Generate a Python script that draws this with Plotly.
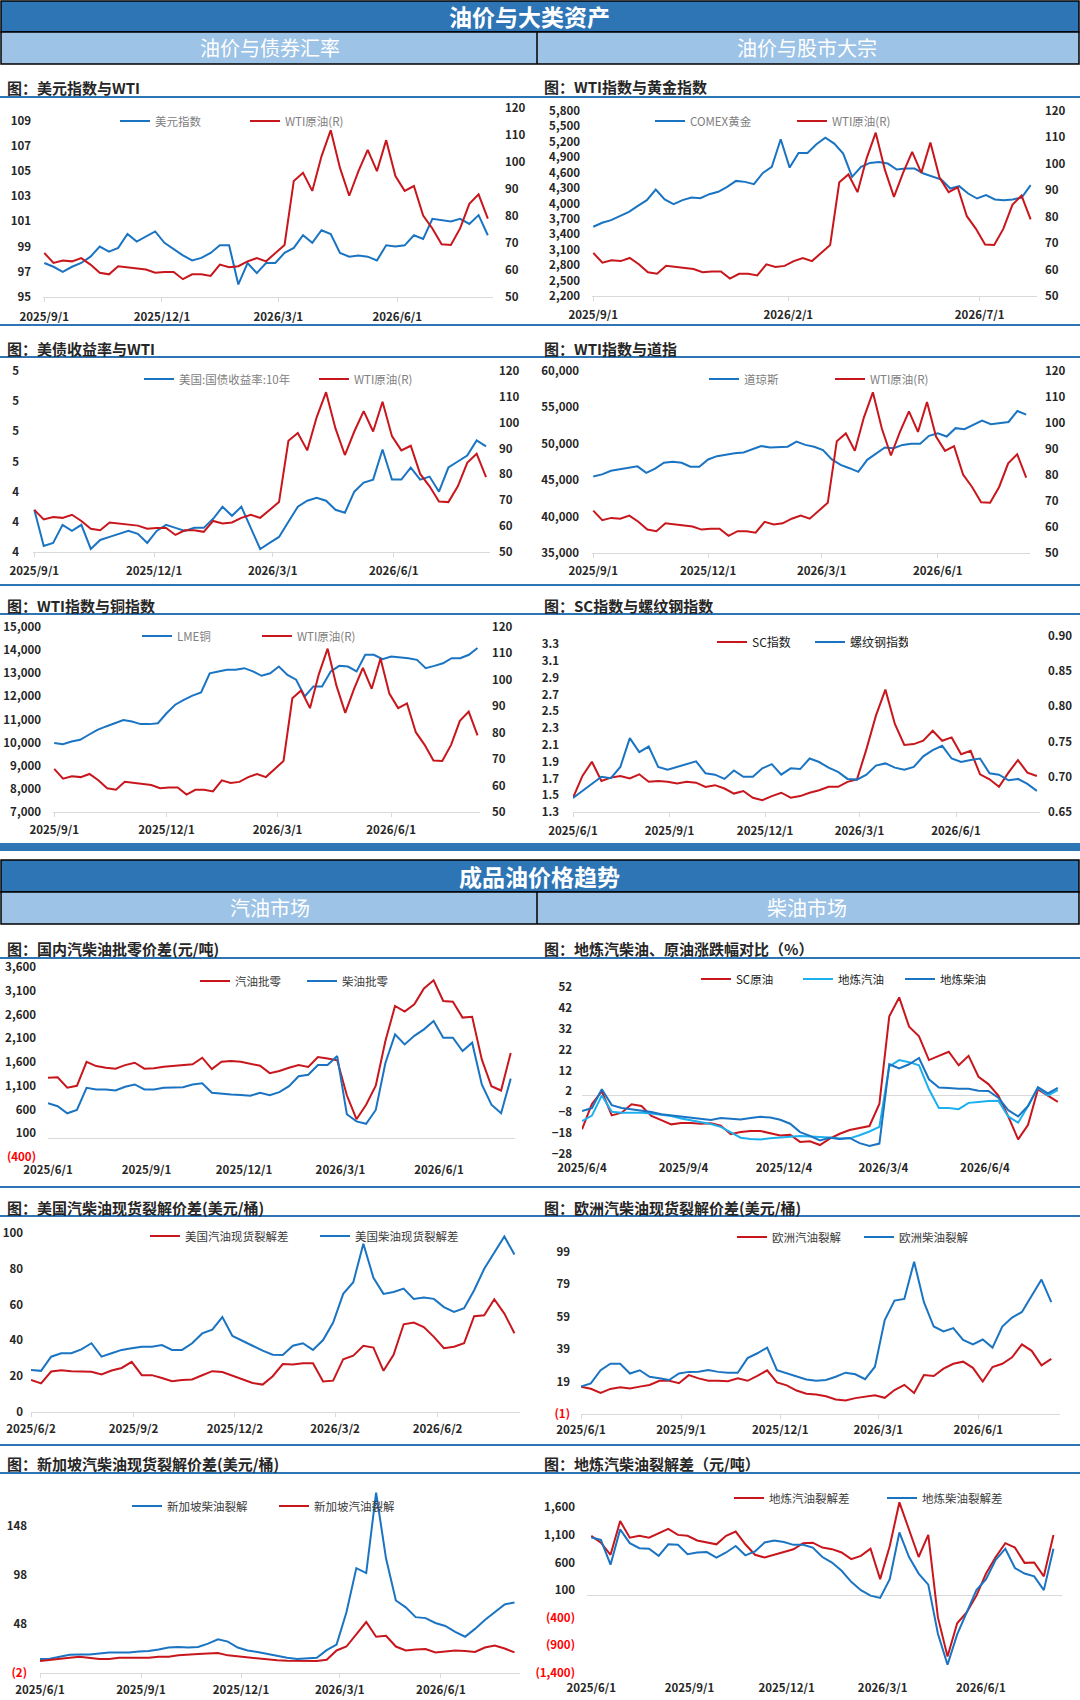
import plotly.graph_objects as go
import pandas as pd

W, H = 1080, 1700
FONT = "Noto Sans CJK SC, Noto Sans, sans-serif"
RED = "#C8161D"
BLUE = "#1A74C2"
SKY = "#1CB0EE"
BAR_DARK = "#2E75B6"
BAR_LIGHT = "#9DC3E6"
AXIS_GRAY = "#D9D9D9"
NEG = "#FF0000"

# ---------------- data ----------------
wti_dates = pd.date_range("2025-09-01", "2026-08-10", periods=49)
wti = [66.3, 62.6, 63.5, 63.2, 64.4, 62.0, 59.0, 58.4, 61.4, 61.0,
       60.6, 60.2, 59.0, 59.3, 59.3, 56.6, 58.4, 58.4, 57.8, 62.0,
       61.0, 61.4, 63.2, 64.4, 63.2, 66.3, 69.3, 93.0, 96.0, 89.3,
       102.1, 111.8, 97.8, 87.5, 96.6, 104.5, 96.6, 108.1, 94.8, 89.3,
       91.1, 80.2, 75.4, 69.5, 69.3, 75.4, 84.5, 88.0, 79.0]
dxy = [97.7, 97.4, 97.0, 97.4, 97.7, 98.2, 99.0, 98.6, 98.9, 100.0,
       99.4, 99.8, 100.2, 99.3, 98.8, 98.3, 97.9, 98.1, 98.5, 99.1,
       99.1, 96.0, 97.7, 96.9, 97.7, 97.7, 98.5, 98.9, 99.9, 99.3,
       100.3, 100.0, 98.5, 98.2, 98.3, 98.2, 97.9, 99.1, 99.0, 99.1,
       99.9, 99.6, 101.2, 101.1, 101.0, 101.2, 100.8, 101.5, 99.9]
ust10 = [4.34, 4.22, 4.23, 4.29, 4.27, 4.29, 4.21, 4.24, 4.25, 4.26,
         4.27, 4.26, 4.23, 4.27, 4.29, 4.28, 4.27, 4.28, 4.28, 4.31,
         4.35, 4.32, 4.35, 4.28, 4.21, 4.23, 4.25, 4.30, 4.35, 4.37,
         4.38, 4.37, 4.34, 4.33, 4.40, 4.43, 4.44, 4.54, 4.44, 4.44,
         4.48, 4.44, 4.45, 4.40, 4.48, 4.50, 4.52, 4.57, 4.55]

asset_dates = pd.date_range("2025-09-01", "2026-08-10", periods=50)
gold = [3547, 3625, 3676, 3754, 3838, 3955, 4065, 4272, 4078, 3987,
        4065, 4117, 4104, 4181, 4227, 4324, 4440, 4421, 4376, 4596,
        4712, 5250, 4699, 4984, 4984, 5153, 5282, 5166, 4971, 4518,
        4712, 4790, 4809, 4777, 4661, 4680, 4680, 4583, 4518, 4466,
        4291, 4337, 4194, 4097, 4162, 4078, 4065, 4078, 4117, 4356]
dow = [45500, 45800, 46300, 46500, 46600, 46900, 46000, 46600, 47400, 47550,
       47400, 46850, 46850, 47850, 48300, 48550, 48700, 48800, 49250, 49700,
       49500, 49500, 49600, 50300, 49850, 49600, 49150, 47850, 47100, 46650,
       46150, 47800, 48700, 49500, 49400, 49850, 50000, 50000, 51100, 51450,
       51000, 52150, 52000, 52600, 53200, 52700, 52800, 53000, 54500, 54000]
lme_cu = [9980, 9930, 10050, 10120, 10340, 10550, 10700, 10840, 10980, 10910,
          10800, 10800, 10840, 11270, 11640, 11850, 12030, 12170, 13000, 13080,
          13150, 13150, 13220, 13080, 12890, 13000, 13290, 12930, 12720, 12000,
          12430, 12430, 13080, 13320, 13290, 13080, 13800, 13800, 13610, 13720,
          13700, 13650, 13580, 13220, 13320, 13430, 13650, 13650, 13800, 14090]

sc_dates = pd.date_range("2025-06-01", "2026-08-17", periods=50)
sc_index = [1.47, 1.73, 1.90, 1.67, 1.71, 1.73, 1.70, 1.75, 1.66, 1.67,
            1.66, 1.64, 1.66, 1.65, 1.60, 1.62, 1.58, 1.52, 1.55, 1.47,
            1.44, 1.49, 1.53, 1.47, 1.49, 1.53, 1.56, 1.60, 1.60, 1.66,
            1.69, 2.05, 2.45, 2.76, 2.35, 2.10, 2.11, 2.15, 2.27, 2.15,
            2.19, 1.99, 2.03, 1.75, 1.69, 1.60, 1.77, 1.92, 1.77, 1.73]
rebar_index = [0.670, 0.680, 0.690, 0.700, 0.698, 0.714, 0.755, 0.735, 0.743, 0.714,
               0.710, 0.714, 0.719, 0.722, 0.705, 0.703, 0.697, 0.709, 0.700, 0.700,
               0.712, 0.718, 0.703, 0.712, 0.711, 0.726, 0.721, 0.713, 0.707, 0.697,
               0.696, 0.703, 0.716, 0.719, 0.713, 0.710, 0.714, 0.729, 0.738, 0.744,
               0.726, 0.721, 0.724, 0.726, 0.705, 0.703, 0.695, 0.697, 0.690, 0.680]

retail_dates = pd.date_range("2025-06-01", "2026-08-07", periods=49)
gasoline_retail = [1267, 1280, 1060, 1100, 1605, 1515, 1480, 1460, 1535, 1585,
                   1460, 1470, 1500, 1515, 1520, 1550, 1690, 1450, 1605, 1620,
                   1605, 1565, 1520, 1365, 1410, 1480, 1535, 1495, 1705, 1675,
                   1635, 900, 395, 700, 1100, 2040, 2780, 2660, 2815, 3150,
                   3320, 2885, 2870, 2535, 2550, 1655, 1090, 1000, 1790]
diesel_retail = [733, 670, 520, 590, 1056, 1020, 1021, 1000, 1080, 1127,
                 1021, 1021, 1056, 1060, 1070, 1127, 1150, 951, 930, 916,
                 905, 890, 951, 900, 965, 1091, 1300, 1330, 1535, 1535,
                 1725, 500, 350, 300, 590, 1580, 2182, 1970, 2150, 2287,
                 2463, 2111, 2111, 1830, 2006, 1127, 700, 520, 1250]

chg_dates = pd.date_range("2025-06-04", "2026-08-09", periods=49)
chg_sc = [-16.2, -4.0, 2.0, -9.5, -8.2, -4.2, -5.0, -9.8, -11.8, -13.8,
          -13.1, -13.1, -13.5, -13.3, -14.4, -18.5, -17.5, -17.0, -17.0, -18.2,
          -19.1, -18.8, -22.2, -21.9, -23.7, -20.6, -18.3, -16.5, -15.5, -14.6,
          -4.0, 38.0, 47.0, 33.0, 28.4, 17.0, 19.0, 21.0, 14.5, 19.0,
          9.0, 5.5, 0.0, -10.0, -21.0, -14.0, 3.0, 0.0, -3.0]
chg_gasoline = [-12.2, -9.6, 0.0, -7.8, -8.2, -8.2, -8.2, -8.6, -9.2, -9.8,
                -11.0, -11.8, -12.6, -13.6, -15.0, -17.8, -20.2, -20.8, -21.0, -20.5,
                -20.0, -19.7, -19.4, -19.6, -20.1, -20.1, -20.6, -20.5, -19.0, -17.2,
                -15.0, 14.0, 17.0, 16.0, 14.5, 3.0, -6.0, -6.0, -6.5, -3.5,
                -3.1, -2.6, -2.5, -10.0, -13.0, -5.0, 3.7, 0.0, 2.6]
chg_diesel = [-7.4, -6.0, 3.0, -4.6, -6.0, -6.6, -7.2, -7.9, -9.0, -9.6,
              -10.1, -10.6, -11.3, -11.7, -10.8, -11.0, -11.5, -10.8, -10.2, -10.5,
              -11.6, -13.5, -17.5, -19.3, -21.5, -20.2, -20.8, -20.3, -22.8, -24.1,
              -23.0, 15.0, 13.0, 15.0, 18.0, 7.8, 3.8, 3.6, 3.2, 3.2,
              2.3, 2.2, -1.0, -7.0, -10.0, -5.0, 4.0, 1.0, 3.7]

us_dates = pd.date_range("2025-06-02", "2026-08-10", periods=49)
us_gasoline_crack = [17.9, 16.0, 22.6, 23.3, 22.8, 22.6, 22.5, 21.0, 23.2, 24.6,
                     28.0, 20.6, 20.6, 19.0, 17.2, 17.9, 18.2, 20.5, 22.8, 22.3,
                     20.2, 17.9, 16.2, 15.3, 20.0, 26.8, 26.5, 27.2, 27.2, 17.0,
                     17.5, 29.5, 31.5, 37.0, 36.0, 23.0, 32.0, 49.0, 50.0, 47.5,
                     42.0, 35.6, 36.5, 38.4, 53.5, 54.0, 63.0, 55.0, 44.0]
us_diesel_crack = [23.5, 23.0, 30.9, 32.8, 32.8, 35.0, 38.4, 30.9, 32.8, 34.7,
                   35.6, 36.5, 36.5, 37.4, 34.7, 34.7, 38.4, 43.9, 46.0, 53.0,
                   42.5, 39.6, 37.0, 34.3, 32.0, 31.9, 37.0, 38.4, 34.7, 40.2,
                   50.0, 66.0, 72.5, 94.0, 75.0, 66.0, 67.0, 68.9, 63.2, 64.0,
                   63.2, 58.6, 55.9, 58.0, 68.0, 80.0, 89.4, 98.0, 88.0]

eu_dates = pd.date_range("2025-06-01", "2026-08-07", periods=49)
eu_gasoline_crack = [15.9, 14.6, 12.0, 14.5, 15.5, 14.8, 15.9, 16.9, 19.5, 19.5,
                     18.0, 23.0, 21.0, 19.6, 19.6, 19.2, 21.0, 19.5, 22.5, 26.0,
                     18.5, 16.7, 13.5, 11.5, 11.0, 10.0, 8.0, 7.3, 8.8, 9.8,
                     10.5, 9.0, 13.8, 17.0, 12.0, 23.1, 22.5, 27.0, 30.0, 31.3,
                     27.5, 19.0, 28.0, 30.0, 34.0, 42.0, 38.0, 29.0, 33.0]
eu_diesel_crack = [15.9, 17.9, 26.0, 30.0, 30.0, 24.0, 26.0, 22.0, 21.0, 20.0,
                   24.0, 25.0, 25.1, 26.2, 25.0, 24.5, 24.5, 33.5, 36.5, 40.0,
                   26.0, 24.0, 22.0, 20.3, 19.5, 20.0, 22.0, 24.5, 23.5, 20.5,
                   28.2, 57.0, 69.0, 70.0, 93.0, 68.0, 53.0, 50.0, 52.0, 44.7,
                   42.0, 45.0, 40.0, 53.0, 58.5, 62.0, 72.0, 82.0, 68.0]

sg_dates = pd.date_range("2025-06-01", "2026-08-07", periods=49)
sg_diesel_crack = [12.4, 12.5, 14.5, 16.5, 16.8, 17.0, 18.0, 19.0, 19.0, 19.0,
                   20.0, 20.5, 22.0, 24.0, 24.5, 24.0, 24.5, 28.0, 32.4, 30.0,
                   24.0, 21.0, 19.5, 17.5, 16.0, 13.5, 12.4, 13.0, 13.5, 21.3,
                   27.0, 60.0, 105.0, 100.0, 182.0, 115.0, 72.0, 65.0, 55.0, 54.0,
                   49.0, 46.0, 40.0, 35.0, 43.0, 52.0, 60.0, 68.0, 70.0]
sg_gasoline_crack = [10.2, 11.5, 12.4, 13.5, 14.5, 13.5, 12.4, 12.4, 13.5, 13.5,
                     13.5, 13.5, 14.5, 14.7, 16.0, 17.0, 17.5, 18.0, 18.5, 16.0,
                     15.0, 13.5, 12.4, 11.5, 11.0, 10.5, 10.2, 10.2, 10.2, 11.5,
                     21.0, 25.0, 38.0, 50.0, 35.0, 36.0, 25.0, 21.0, 22.0, 22.5,
                     19.0, 20.0, 21.0, 20.5, 19.5, 24.0, 26.0, 23.0, 19.0]

local_dates = pd.date_range("2025-06-01", "2026-08-08", periods=49)
local_gasoline_crack = [1083, 960, 740, 1350, 1050, 1083, 1050, 1130, 1210, 1100,
                        1083, 1000, 963, 930, 1083, 1160, 930, 740, 690, 740,
                        780, 840, 950, 960, 870, 842, 782, 661, 720, 850,
                        300, 900, 1690, 1200, 700, 1100, -393, -1100, -500, -300,
                        0, 400, 700, 950, 870, 594, 600, 350, 1100]
local_diesel_crack = [1053, 1010, 560, 1200, 950, 860, 850, 720, 930, 920,
                      752, 780, 790, 690, 782, 900, 730, 800, 963, 1000,
                      970, 920, 920, 870, 700, 600, 450, 250, 100, 0,
                      -40, 300, 1144, 700, 400, 200, -690, -1250, -700, -300,
                      100, 300, 650, 850, 500, 400, 350, 100, 850]

# tick values / labels
wti_ticks = [50, 60, 70, 80, 90, 100, 110, 120]
dxy_ticks = [95, 97, 99, 101, 103, 105, 107, 109]
gold_ticks = [2200, 2500, 2800, 3100, 3400, 3700, 4000, 4300, 4600, 4900, 5200, 5500, 5800]
ust_ticks = [4.2, 4.3, 4.4, 4.5, 4.6, 4.7, 4.8]
ust_ticktext = ["4", "4", "4", "5", "5", "5", "5"]
dow_ticks = [35000, 40000, 45000, 50000, 55000, 60000]
cu_ticks = [7000, 8000, 9000, 10000, 11000, 12000, 13000, 14000, 15000]
sc_ticks = [1.3, 1.5, 1.7, 1.9, 2.1, 2.3, 2.5, 2.7, 2.9, 3.1, 3.3]
rebar_ticks = [0.65, 0.70, 0.75, 0.80, 0.85, 0.90]
retail_ticks = [-400, 100, 600, 1100, 1600, 2100, 2600, 3100, 3600]
retail_ticktext = ["(400)", "100", "600", "1,100", "1,600", "2,100", "2,600", "3,100", "3,600"]
chg_ticks = [-28, -18, -8, 2, 12, 22, 32, 42, 52]
us_ticks = [0, 20, 40, 60, 80, 100]
eu_ticks = [-1, 19, 39, 59, 79, 99]
eu_ticktext = ["(1)", "19", "39", "59", "79", "99"]
sg_ticks = [-2, 48, 98, 148]
sg_ticktext = ["(2)", "48", "98", "148"]
local_ticks = [-1400, -900, -400, 100, 600, 1100, 1600]
local_ticktext = ["(1,400)", "(900)", "(400)", "100", "600", "1,100", "1,600"]

dates_q_sep = ["2025/9/1", "2025/12/1", "2026/3/1", "2026/6/1"]
dates_5m = ["2025/9/1", "2026/2/1", "2026/7/1"]
dates_q_jun = ["2025/6/1", "2025/9/1", "2025/12/1", "2026/3/1", "2026/6/1"]
dates_q_jun4 = ["2025/6/4", "2025/9/4", "2025/12/4", "2026/3/4", "2026/6/4"]
dates_q_jun2 = ["2025/6/2", "2025/9/2", "2025/12/2", "2026/3/2", "2026/6/2"]

# ---------------- helpers ----------------
fig = go.Figure()
layout = {}
shapes = []
annotations = []
TICKFONT = dict(family=FONT, size=11.5, color="#262626", weight="bold")


def fx(x):
    return x / W


def fy(y):
    return 1 - y / H


def sub(prefix, n):
    return prefix if n == 1 else f"{prefix}{n}"


def red_neg(labels):
    return [f"<span style='color:{NEG}'>{t}</span>" if t.startswith("(") else t for t in labels]


def text(x, y, s, size, color, bold=False, xanchor="left"):
    annotations.append(dict(
        x=fx(x), y=fy(y), xref="paper", yref="paper", text=s, showarrow=False,
        xanchor=xanchor, yanchor="middle",
        font=dict(family=FONT, size=size, color=color, weight="bold" if bold else "normal")))


def rect(x0, y0, x1, y1, fill, line_color=None, lw=0):
    shapes.append(dict(type="rect", xref="paper", yref="paper",
                       x0=fx(x0), x1=fx(x1), y0=fy(y1), y1=fy(y0),
                       fillcolor=fill, line=dict(color=line_color or fill, width=lw),
                       layer="below"))


def seg(x0, y0, x1, y1, color=BAR_DARK, width=2):
    shapes.append(dict(type="line", xref="paper", yref="paper",
                       x0=fx(x0), x1=fx(x1), y0=fy(y0), y1=fy(y1),
                       line=dict(color=color, width=width)))


def yaxis_spec(spec, ydom, anchor, zero=False):
    d = dict(domain=[fy(ydom[1]), fy(ydom[0])], anchor=anchor, range=spec["range"],
             tickmode="array", tickvals=spec["vals"], showgrid=False, showline=False,
             ticks="", tickfont=TICKFONT, ticklabelstandoff=spec["standoff"],
             zeroline=zero, zerolinecolor=AXIS_GRAY, zerolinewidth=1,
             automargin=False, fixedrange=True)
    if "text" in spec:
        d["ticktext"] = spec["text"]
    if "fmt" in spec:
        d["tickformat"] = spec["fmt"]
    return d


def panel(k, title, title_xy, xdom, ydom, xrange, xlabels, left, right=None,
          zero=False, xstand=4, legend=None):
    xid, yl, yr = k, 2 * k - 1, 2 * k
    tickvals = [pd.Timestamp(s.replace("/", "-")) for s in xlabels]
    layout[sub("xaxis", xid)] = dict(
        domain=[fx(xdom[0]), fx(xdom[1])], anchor=sub("y", yl), type="date",
        range=xrange, tickmode="array", tickvals=tickvals, ticktext=xlabels,
        showgrid=False, zeroline=False, showline=not zero, linecolor=AXIS_GRAY,
        linewidth=1, ticks="" if zero else "outside", ticklen=4, tickcolor=AXIS_GRAY,
        tickfont=TICKFONT, ticklabelstandoff=xstand, automargin=False, fixedrange=True)
    layout[sub("yaxis", yl)] = yaxis_spec(left, ydom, sub("x", xid), zero)
    if right:
        ry = yaxis_spec(right, ydom, sub("x", xid))
        ry.pop("domain")
        ry.update(overlaying=sub("y", yl), side="right")
        layout[sub("yaxis", yr)] = ry
    lx, ly, step, color, size = legend
    layout[sub("legend", k)] = dict(
        orientation="h", x=fx(lx - 8), y=fy(ly), xanchor="left", yanchor="middle",
        bgcolor="rgba(0,0,0,0)", borderwidth=0,
        font=dict(family=FONT, size=size, color=color),
        entrywidth=step - 45, entrywidthmode="pixels", itemwidth=30, tracegroupgap=0)
    text(title_xy[0], title_xy[1], title, 15, "#262626", bold=True)


def add_line(k, x, y, name, color, right=False):
    fig.add_trace(go.Scatter(
        x=list(x), y=y, name=name, mode="lines", line=dict(color=color, width=2),
        xaxis=sub("x", k), yaxis=sub("y", 2 * k if right else 2 * k - 1),
        legend=sub("legend", k), hoverinfo="skip"))


WTI_R = lambda so: dict(range=[50, 120], vals=wti_ticks, standoff=so)
LG = "#808080"
LD = "#3A3A3A"

# ---------------- section 1: 油价与大类资产 ----------------
panel(1, "图：美元指数与WTI", (5, 88), (43, 493), (108, 297),
      ["2025-08-31", "2026-08-14"], dates_q_sep,
      dict(range=[95, 110], vals=dxy_ticks, standoff=11), WTI_R(11),
      xstand=5, legend=(123, 121, 130, LG, 11.5))
add_line(1, wti_dates, dxy, "美元指数", BLUE)
add_line(1, wti_dates, wti, "WTI原油(R)", RED, right=True)

panel(2, "图：WTI指数与黄金指数", (542, 87), (592, 1037), (111, 296),
      ["2025-08-31", "2026-08-15"], dates_5m,
      dict(range=[2200, 5800], vals=gold_ticks, fmt=",", standoff=11), WTI_R(7),
      xstand=4, legend=(658, 121, 142, LG, 11.5))
add_line(2, asset_dates, gold, "COMEX黄金", BLUE)
add_line(2, wti_dates, wti, "WTI原油(R)", RED, right=True)

panel(3, "图：美债收益率与WTI", (5, 348), (33, 490), (371, 552),
      ["2025-08-31", "2026-08-13"], dates_q_sep,
      dict(range=[4.2, 4.8], vals=ust_ticks, text=ust_ticktext, standoff=13), WTI_R(8),
      xstand=4, legend=(147, 379, 175, LG, 11.5))
add_line(3, wti_dates, ust10, "美国:国债收益率:10年", BLUE)
add_line(3, wti_dates, wti, "WTI原油(R)", RED, right=True)

panel(4, "图：WTI指数与道指", (542, 348), (592, 1030), (371, 553),
      ["2025-08-31", "2026-08-13"], dates_q_sep,
      dict(range=[35000, 60000], vals=dow_ticks, fmt=",", standoff=12), WTI_R(14),
      xstand=3, legend=(712, 379, 126, LG, 11.5))
add_line(4, asset_dates, dow, "道琼斯", BLUE)
add_line(4, wti_dates, wti, "WTI原油(R)", RED, right=True)

panel(5, "图：WTI指数与铜指数", (5, 605), (53, 480), (627, 812),
      ["2025-08-31", "2026-08-12"], dates_q_sep,
      dict(range=[7000, 15000], vals=cu_ticks, fmt=",", standoff=11), WTI_R(11),
      xstand=3, legend=(145, 636, 120, LG, 11.5))
add_line(5, asset_dates, lme_cu, "LME铜", BLUE)
add_line(5, wti_dates, wti, "WTI原油(R)", RED, right=True)

panel(6, "图：SC指数与螺纹钢指数", (542, 605), (573, 1040), (636, 812),
      ["2025-06-01", "2026-08-20"], dates_q_jun,
      dict(range=[1.3, 3.4], vals=sc_ticks, fmt=".1f", standoff=13),
      dict(range=[0.65, 0.90], vals=rebar_ticks, fmt=".2f", standoff=7),
      xstand=4, legend=(720, 642, 98, "#1A1A1A", 12))
add_line(6, sc_dates, sc_index, "SC指数", RED)
add_line(6, sc_dates, rebar_index, "螺纹钢指数", BLUE, right=True)

# ---------------- section 2: 成品油价格趋势 ----------------
panel(7, "图：国内汽柴油批零价差(元/吨)", (5, 948), (48, 515), (967, 1157),
      ["2025-06-01", "2026-08-11"], dates_q_jun,
      dict(range=[-400, 3600], vals=retail_ticks, text=red_neg(retail_ticktext), standoff=11),
      zero=True, xstand=4, legend=(203, 981, 107, LD, 11.5))
add_line(7, retail_dates, gasoline_retail, "汽油批零", RED)
add_line(7, retail_dates, diesel_retail, "柴油批零", BLUE)

panel(8, "图：地炼汽柴油、原油涨跌幅对比（%）", (542, 948), (582, 1060), (987, 1154),
      ["2025-06-04", "2026-08-11"], dates_q_jun4,
      dict(range=[-28, 52], vals=chg_ticks, standoff=9),
      zero=True, xstand=5, legend=(704, 979, 102, "#1A1A1A", 11.5))
add_line(8, chg_dates, chg_sc, "SC原油", RED)
add_line(8, chg_dates, chg_gasoline, "地炼汽油", SKY)
add_line(8, chg_dates, chg_diesel, "地炼柴油", BLUE)

panel(9, "图：美国汽柴油现货裂解价差(美元/桶)", (5, 1207), (31, 520), (1233, 1412),
      ["2025-06-02", "2026-08-15"], dates_q_jun2,
      dict(range=[0, 100], vals=us_ticks, standoff=7),
      xstand=2, legend=(153, 1236, 170, LD, 11.5))
add_line(9, us_dates, us_gasoline_crack, "美国汽油现货裂解差", RED)
add_line(9, us_dates, us_diesel_crack, "美国柴油现货裂解差", BLUE)

panel(10, "图：欧洲汽柴油现货裂解价差(美元/桶)", (542, 1207), (581, 1060), (1252, 1414),
      ["2025-06-01", "2026-08-15"], dates_q_jun,
      dict(range=[-1, 99], vals=eu_ticks, text=red_neg(eu_ticktext), standoff=10),
      xstand=1, legend=(740, 1237, 127, LD, 11.5))
add_line(10, eu_dates, eu_gasoline_crack, "欧洲汽油裂解", RED)
add_line(10, eu_dates, eu_diesel_crack, "欧洲柴油裂解", BLUE)

panel(11, "图：新加坡汽柴油现货裂解价差(美元/桶)", (5, 1463), (40, 520), (1477, 1673),
      ["2025-06-01", "2026-08-12"], dates_q_jun,
      dict(range=[-2, 198], vals=sg_ticks, text=red_neg(sg_ticktext), standoff=12),
      xstand=2, legend=(135, 1506, 147, LD, 11.5))
add_line(11, sg_dates, sg_diesel_crack, "新加坡柴油裂解", BLUE)
add_line(11, sg_dates, sg_gasoline_crack, "新加坡汽油裂解", RED)

panel(12, "图：地炼汽柴油裂解差（元/吨）", (542, 1463), (587, 1062), (1499, 1673),
      ["2025-05-28", "2026-08-16"], dates_q_jun,
      dict(range=[-1400, 1750], vals=local_ticks, text=red_neg(local_ticktext), standoff=11),
      zero=True, xstand=6, legend=(737, 1498, 153, LD, 11.5))
add_line(12, local_dates, local_gasoline_crack, "地炼汽油裂解差", RED)
add_line(12, local_dates, local_diesel_crack, "地炼柴油裂解差", BLUE)

# ---------------- header bars and rules ----------------
rect(1, 1, 1079, 32, BAR_DARK, "black", 1.5)
rect(1, 32, 1079, 64, BAR_LIGHT, "black", 1.5)
seg(537, 32, 537, 64, "black", 1.5)
text(529, 16, "油价与大类资产", 23, "white", bold=True, xanchor="center")
text(270, 48, "油价与债券汇率", 20, "white", xanchor="center")
text(807, 48, "油价与股市大宗", 20, "white", xanchor="center")

rect(0, 843, 1080, 851, BAR_DARK)
rect(1, 860, 1079, 892, BAR_DARK, "black", 1.5)
rect(1, 892, 1079, 924, BAR_LIGHT, "black", 1.5)
seg(537, 892, 537, 924, "black", 1.5)
text(539, 876, "成品油价格趋势", 23, "white", bold=True, xanchor="center")
text(270, 908, "汽油市场", 20, "white", xanchor="center")
text(807, 908, "柴油市场", 20, "white", xanchor="center")

for y in (97, 357, 614, 958, 1216, 1473):
    seg(0, y, W, y, BAR_DARK, 2)
for y in (325, 585, 1187, 1445):
    seg(0, y, W, y, BAR_DARK, 2)

fig.update_layout(
    template="none",
    width=W, height=H, margin=dict(l=0, r=0, t=0, b=0, pad=0, autoexpand=False),
    paper_bgcolor="white", plot_bgcolor="white",
    font=dict(family=FONT, color="#262626"),
    showlegend=True, shapes=shapes, annotations=annotations, **layout)

# drop the page's default body margin so the figure sits at the window's corner
fig.write_html("out.html", config={"displayModeBar": False},
               post_script="document.body.style.margin='0px';")
